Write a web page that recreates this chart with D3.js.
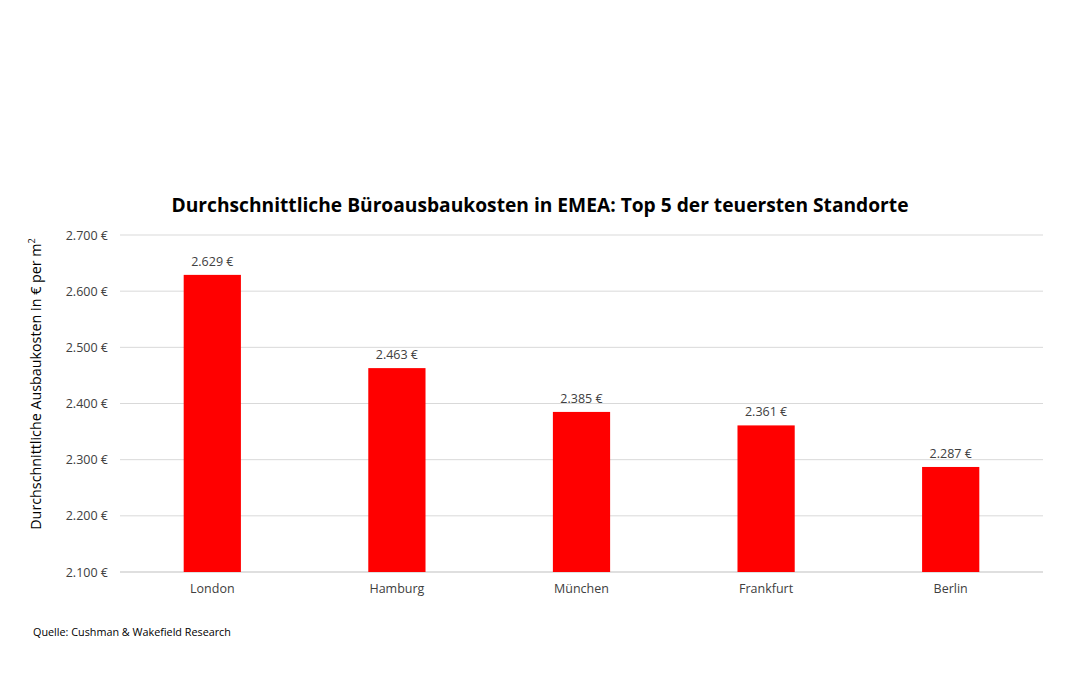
<!DOCTYPE html>
<html><head><meta charset="utf-8">
<script src="https://cdn.jsdelivr.net/npm/d3@7"></script>
<style>body{margin:0;background:#fff}text{font-family:"Open Sans",sans-serif}</style>
</head><body>
<svg id="chart" width="1080" height="675"></svg>
<script>
var cities = ["London", "Hamburg", "München", "Frankfurt", "Berlin"]
var costs = [2629, 2463, 2385, 2361, 2287]
var yTicks = [2100, 2200, 2300, 2400, 2500, 2600, 2700]

var fmt = function(v) { return d3.format(",")(v).replace(",", ".") + " €" }

var svg = d3.select("#chart")
var plotLeft = 120, plotRight = 1043, plotTop = 235, plotBottom = 572

var x = d3.scaleBand().domain(cities).range([plotLeft, plotRight]).paddingInner(0.69).paddingOuter(0.345)
var y = d3.scaleLinear().domain([2100, 2700]).range([plotBottom, plotTop])

// gridlines
svg.append("g").selectAll("line").data(yTicks).enter().append("line")
  .attr("x1", plotLeft).attr("x2", plotRight)
  .attr("y1", function(d) { return y(d) }).attr("y2", function(d) { return y(d) })
  .attr("stroke", function(d) { return d == 2100 ? "#bfbfbf" : "#d9d9d9" }).attr("stroke-width", 1)

// y labels
svg.append("g").selectAll("text").data(yTicks).enter().append("text")
  .attr("x", 108).attr("y", function(d) { return y(d) + 4.5 })
  .attr("text-anchor", "end").attr("font-size", 12.5).attr("fill", "#404040")
  .text(fmt)

// bars
svg.append("g").selectAll("rect").data(costs).enter().append("rect")
  .attr("x", function(d, i) { return x(cities[i]) })
  .attr("width", x.bandwidth())
  .attr("y", function(d) { return y(d) })
  .attr("height", function(d) { return plotBottom - y(d) })
  .attr("fill", "#ff0000")

// value labels
svg.append("g").selectAll("text").data(costs).enter().append("text")
  .attr("x", function(d, i) { return x(cities[i]) + x.bandwidth() / 2 })
  .attr("y", function(d) { return y(d) - 9 })
  .attr("text-anchor", "middle").attr("font-size", 12.5).attr("fill", "#404040")
  .text(fmt)

// x labels
var xAxis = d3.axisBottom(x).tickSize(0).tickPadding(12)
var gx = svg.append("g").attr("transform", "translate(0," + plotBottom + ")").call(xAxis)
gx.select(".domain").remove()
gx.selectAll("text").attr("font-size", 12.5).attr("fill", "#404040").attr("font-family", "Open Sans")

// title
svg.append("text").attr("x", 540).attr("y", 212).attr("text-anchor", "middle")
  .attr("font-size", 19.2).attr("font-weight", "bold").attr("fill", "#000")
  .text("Durchschnittliche Büroausbaukosten in EMEA: Top 5 der teuersten Standorte")

// y title
var yt = svg.append("text").attr("transform", "translate(41,384) rotate(-90)")
  .attr("text-anchor", "middle").attr("font-size", 14.3).attr("fill", "#000")
yt.append("tspan").text("Durchschnittliche Ausbaukosten in € per m")
yt.append("tspan").attr("font-size", 9).attr("dy", -6).text("2")

// source
svg.append("text").attr("x", 33).attr("y", 636).attr("font-size", 10.8).attr("fill", "#000")
  .text("Quelle: Cushman & Wakefield Research")
</script>
</body></html>
